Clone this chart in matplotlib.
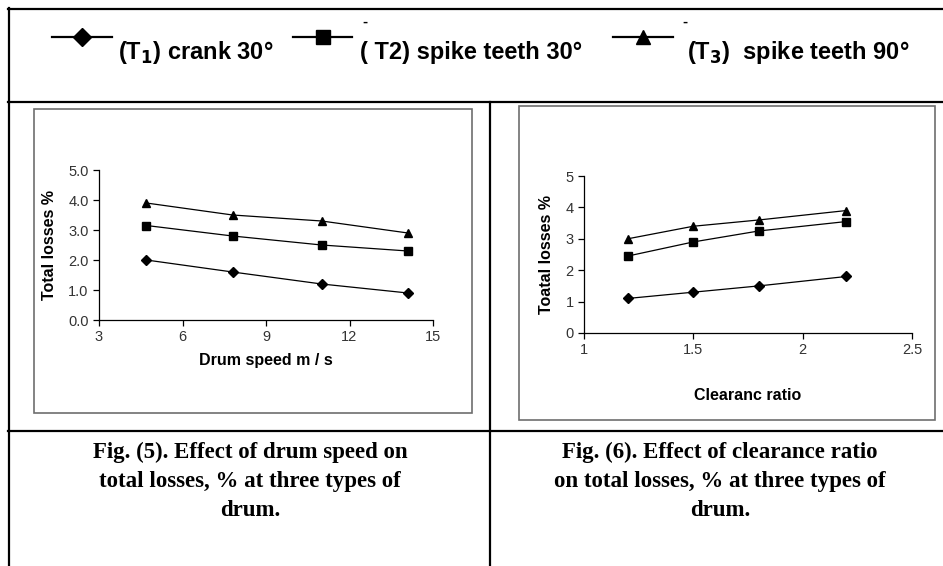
import matplotlib
matplotlib.use("Agg")
import matplotlib.pyplot as plt
from matplotlib.lines import Line2D
from matplotlib.patches import Rectangle

# data
speed = [4.7, 7.8, 11.0, 14.1]
speed_t1 = [2.0, 1.6, 1.2, 0.9]
speed_t2 = [3.15, 2.8, 2.5, 2.3]
speed_t3 = [3.9, 3.5, 3.3, 2.9]

clear = [1.2, 1.5, 1.8, 2.2]
clear_t1 = [1.1, 1.3, 1.5, 1.8]
clear_t2 = [2.45, 2.9, 3.25, 3.55]
clear_t3 = [3.0, 3.4, 3.6, 3.9]

series_labels = ["(T$_\\mathbf{1}$) crank 30°", "( T2) spike teeth 30°", "(T$_\\mathbf{3}$)  spike teeth 90°"]
markers = ["D", "s", "^"]

W, H = 943, 566
plt.rcParams["font.family"] = ["Liberation Sans", "DejaVu Sans"]

fig = plt.figure(figsize=(W / 100, H / 100), dpi=100)


def fx(x):
    return x / W


def fy(y):
    return 1 - y / H


def hline(y, x0, x1):
    fig.add_artist(Line2D([fx(x0), fx(x1)], [fy(y), fy(y)], color="black", lw=1.6, transform=fig.transFigure))


def vline(x, y0, y1):
    fig.add_artist(Line2D([fx(x), fx(x)], [fy(y0), fy(y1)], color="black", lw=1.6, transform=fig.transFigure))


# table borders
hline(9, 8, W)
hline(102, 8, W)
hline(431, 8, W)
vline(9, 8, H)
vline(490, 102, H)

# gray chart frames
for (x0, y0, x1, y1) in [(34, 109, 472, 413), (519, 106, 935, 420)]:
    fig.add_artist(Rectangle((fx(x0), fy(y1)), fx(x1) - fx(x0), fy(y0) - fy(y1),
                             fill=False, edgecolor="#6e6e6e", lw=1.2, transform=fig.transFigure))

# legend row
leg_x = [(52, 112, 118), (293, 352, 360), (613, 673, 687)]
ms_leg = {"D": 9.5, "s": 10, "^": 10.5}
for (x0, x1, tx), m, lab in zip(leg_x, markers, series_labels):
    fig.add_artist(Line2D([fx(x0), fx(x1)], [fy(37), fy(37)], color="black", lw=1.6,
                          transform=fig.transFigure))
    fig.add_artist(Line2D([fx(x0 + 30)], [fy(37)], marker=m, color="black", ms=ms_leg[m],
                          transform=fig.transFigure))
    fig.text(fx(tx), fy(53), lab, fontsize=17, fontweight="bold", va="center", ha="left")
for x in (365, 685):
    fig.text(fx(x), fy(22), "-", fontsize=11, fontweight="bold", va="center", ha="center")


def panel(rect, xs, ys_list, xlim, xticks, yticks, ytick_fmt, xlabel, ylabel, xlabelpad):
    ax = fig.add_axes(rect)
    for ys, m in zip(ys_list, markers):
        ax.plot(xs, ys, color="black", lw=0.9, marker=m, ms=6 if m != "D" else 5.5)
    ax.set_xlim(*xlim)
    ax.set_ylim(0, 5)
    ax.set_xticks(xticks)
    ax.set_xticklabels(["{:g}".format(v) for v in xticks])
    ax.set_yticks(yticks)
    ax.set_yticklabels([ytick_fmt.format(v) for v in yticks])
    ax.spines["top"].set_visible(False)
    ax.spines["right"].set_visible(False)
    for s in ("left", "bottom"):
        ax.spines[s].set_linewidth(0.9)
    ax.tick_params(direction="out", length=4, width=0.9, labelsize=10.5, labelcolor="#333333")
    ax.set_xlabel(xlabel, fontsize=11.5, fontweight="bold", labelpad=xlabelpad)
    ax.set_ylabel(ylabel, fontsize=11.5, fontweight="bold", labelpad=8)
    ax.patch.set_alpha(0)
    return ax


panel([fx(99), fy(320), fx(433) - fx(99), fy(170) - fy(320)], speed, [speed_t1, speed_t2, speed_t3],
      (3, 15), [3, 6, 9, 12, 15], [0, 1, 2, 3, 4, 5], "{:.1f}", "Drum speed m / s", "Total losses %", 6)
panel([fx(584), fy(333), fx(912) - fx(584), fy(176) - fy(333)], clear, [clear_t1, clear_t2, clear_t3],
      (1, 2.5), [1, 1.5, 2, 2.5], [0, 1, 2, 3, 4, 5], "{:d}", "Clearanc ratio", "Toatal losses %", 22)

# captions
cap_font = ["Liberation Serif", "DejaVu Serif"]
fig.text(fx(250), fy(481), "Fig. (5). Effect of drum speed on\ntotal losses, % at three types of\ndrum.",
         family=cap_font, fontsize=16.5, fontweight="bold", ha="center", va="center", linespacing=1.5)
fig.text(fx(720), fy(481), "Fig. (6). Effect of clearance ratio\non total losses, % at three types of\ndrum.",
         family=cap_font, fontsize=16.5, fontweight="bold", ha="center", va="center", linespacing=1.5)

fig.savefig("out.png", dpi=100)
